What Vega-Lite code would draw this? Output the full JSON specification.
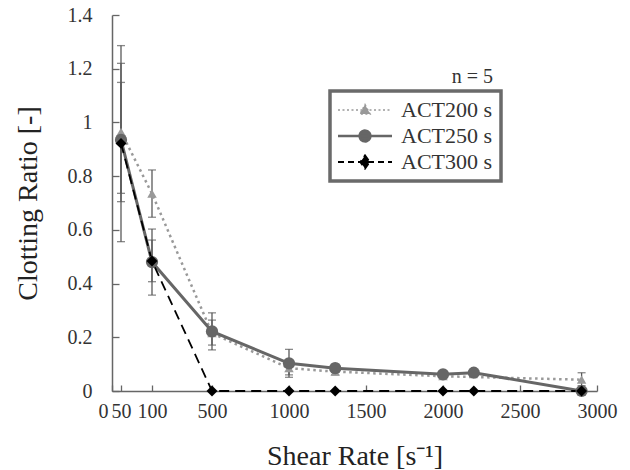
{
  "$schema": "https://vega.github.io/schema/vega-lite/v6.json",
  "autosize": {"type": "none"},
  "padding": {"left": 112, "top": 15, "right": 33, "bottom": 79},
  "width": 485,
  "height": 376,
  "background": "white",
  "config": {
    "view": {"stroke": null},
    "font": "Liberation Serif",
    "axis": {
      "grid": false,
      "domainColor": "#666",
      "domainWidth": 1.5,
      "tickColor": "#666",
      "tickWidth": 1.3,
      "labelFont": "Liberation Serif",
      "labelFontSize": 20,
      "labelColor": "#333",
      "titleFont": "Liberation Serif",
      "titleFontSize": 28,
      "titleFontWeight": "normal",
      "titleColor": "#222"
    }
  },
  "data": {
    "values": [
      {"rate": 50, "ratio": 0.965, "lo": 0.705, "hi": 1.22, "series": "ACT200 s"},
      {"rate": 100, "ratio": 0.735, "lo": 0.647, "hi": 0.823, "series": "ACT200 s"},
      {"rate": 500, "ratio": 0.215, "lo": 0.171, "hi": 0.264, "series": "ACT200 s"},
      {"rate": 1000, "ratio": 0.085, "lo": 0.06, "hi": 0.11, "series": "ACT200 s"},
      {"rate": 1300, "ratio": 0.072, "lo": 0.06, "hi": 0.085, "series": "ACT200 s"},
      {"rate": 2000, "ratio": 0.055, "lo": 0.045, "hi": 0.065, "series": "ACT200 s"},
      {"rate": 2900, "ratio": 0.042, "lo": 0.02, "hi": 0.068, "series": "ACT200 s"},
      {"rate": 50, "ratio": 0.935, "lo": 0.736, "hi": 1.149, "series": "ACT250 s"},
      {"rate": 100, "ratio": 0.48, "lo": 0.357, "hi": 0.603, "series": "ACT250 s"},
      {"rate": 500, "ratio": 0.222, "lo": 0.153, "hi": 0.291, "series": "ACT250 s"},
      {"rate": 1000, "ratio": 0.103, "lo": 0.051, "hi": 0.155, "series": "ACT250 s"},
      {"rate": 1300, "ratio": 0.085, "lo": 0.07, "hi": 0.1, "series": "ACT250 s"},
      {"rate": 2000, "ratio": 0.062, "lo": 0.05, "hi": 0.072, "series": "ACT250 s"},
      {"rate": 2200, "ratio": 0.068, "lo": 0.06, "hi": 0.076, "series": "ACT250 s"},
      {"rate": 2900, "ratio": 0.0, "lo": null, "hi": null, "series": "ACT250 s"},
      {"rate": 50, "ratio": 0.922, "lo": 0.556, "hi": 1.286, "series": "ACT300 s"},
      {"rate": 100, "ratio": 0.484, "lo": 0.407, "hi": 0.562, "series": "ACT300 s"},
      {"rate": 500, "ratio": 0.0, "lo": null, "hi": null, "series": "ACT300 s"},
      {"rate": 1000, "ratio": 0.0, "lo": null, "hi": null, "series": "ACT300 s"},
      {"rate": 1300, "ratio": 0.0, "lo": null, "hi": null, "series": "ACT300 s"},
      {"rate": 2000, "ratio": 0.0, "lo": null, "hi": null, "series": "ACT300 s"},
      {"rate": 2200, "ratio": 0.0, "lo": null, "hi": null, "series": "ACT300 s"},
      {"rate": 2900, "ratio": 0.0, "lo": null, "hi": null, "series": "ACT300 s"}
    ]
  },
  "encoding": {
    "x": {
      "field": "rate",
      "type": "quantitative",
      "scale": {"domain": [0, 50, 100, 500, 3000], "range": [0, 9, 40, 100, 485], "nice": false, "zero": false},
      "axis": {
        "title": "Shear Rate [s⁻¹]",
        "values": [0, 50, 100, 500, 1000, 1500, 2000, 2500, 3000],
        "format": "d",
        "labelOverlap": false,
        "labelAlign": {"condition": {"test": "datum.value === 0", "value": "right"}, "value": "center"},
        "labelOffset": {"condition": {"test": "datum.value === 0", "value": -4}, "value": 0},
        "tickSize": -6,
        "labelPadding": 16,
        "titlePadding": 21
      }
    },
    "y": {
      "field": "ratio",
      "type": "quantitative",
      "scale": {"domain": [0, 1.4], "nice": false},
      "axis": {
        "title": "Clotting Ratio [-]",
        "values": [0, 0.2, 0.4, 0.6, 0.8, 1, 1.2, 1.4],
        "format": "~g",
        "tickSize": -7,
        "labelPadding": 27,
        "titlePadding": 25
      }
    },
    "color": {
      "field": "series",
      "type": "nominal",
      "scale": {"domain": ["ACT200 s", "ACT250 s", "ACT300 s"], "range": ["#999", "#666", "#000"]},
      "legend": {
        "title": null,
        "orient": "none",
        "legendX": 218,
        "legendY": 76,
        "padding": 8,
        "fillColor": "white",
        "strokeColor": "#6a6a6a",
        "labelFont": "Liberation Serif",
        "labelFontSize": 22,
        "labelColor": "#333",
        "labelOffset": 41,
        "rowPadding": 4,
        "symbolSize": 2916,
        "encode": {
          "legend": {"update": {"strokeWidth": {"value": 3.5}}},
          "symbols": {
            "update": {
              "shape": {"signal": "datum.value === 'ACT200 s' ? 'M-1,0H1M0,-0.2L0.19,0.15L-0.19,0.15Z' : datum.value === 'ACT250 s' ? 'M-1,0H1M0.2,0A0.2,0.2 0 1,1 -0.2,0A0.2,0.2 0 1,1 0.2,0Z' : 'M-1,0H1M0,-0.24L0.17,0L0,0.24L-0.17,0Z'"},
              "size": {"value": 2916},
              "x": {"value": 27},
              "strokeDash": {"signal": "datum.value === 'ACT200 s' ? [2, 2.5] : datum.value === 'ACT250 s' ? [1, 0] : [6, 4]"},
              "strokeWidth": {"signal": "datum.value === 'ACT200 s' ? 1.5 : datum.value === 'ACT250 s' ? 2.5 : 2"},
              "opacity": {"value": 1},
              "fillOpacity": {"value": 1}
            }
          }
        }
      }
    }
  },
  "layer": [
    {
      "transform": [{"filter": "datum.lo != null"}],
      "mark": {"type": "rule", "strokeWidth": 1.3},
      "encoding": {"y": {"field": "lo", "type": "quantitative"}, "y2": {"field": "hi"}, "color": {"value": "#5a5a5a"}}
    },
    {
      "transform": [{"filter": "datum.lo != null"}],
      "mark": {"type": "point", "shape": "stroke", "size": 64, "strokeWidth": 1.3},
      "encoding": {"y": {"field": "lo", "type": "quantitative"}, "color": {"value": "#5a5a5a"}}
    },
    {
      "transform": [{"filter": "datum.lo != null"}],
      "mark": {"type": "point", "shape": "stroke", "size": 64, "strokeWidth": 1.3},
      "encoding": {"y": {"field": "hi", "type": "quantitative"}, "color": {"value": "#5a5a5a"}}
    },
    {
      "transform": [{"filter": "datum.series === 'ACT200 s'"}],
      "mark": {"type": "line", "strokeDash": [2.5, 3.5], "strokeWidth": 2.5}
    },
    {
      "transform": [{"filter": "datum.series === 'ACT250 s'"}],
      "mark": {"type": "line", "strokeWidth": 3}
    },
    {
      "transform": [{"filter": "datum.series === 'ACT300 s'"}],
      "mark": {"type": "line", "strokeDash": [10, 6], "strokeWidth": 1.8}
    },
    {
      "transform": [{"filter": "datum.series === 'ACT200 s'"}],
      "mark": {"type": "point", "filled": true, "opacity": 1, "shape": "triangle-up", "size": 90}
    },
    {
      "transform": [{"filter": "datum.series === 'ACT250 s'"}],
      "mark": {"type": "point", "filled": true, "opacity": 1, "shape": "circle", "size": 150}
    },
    {
      "transform": [{"filter": "datum.series === 'ACT300 s'"}],
      "mark": {"type": "point", "filled": true, "opacity": 1, "shape": "diamond", "size": 120}
    },
    {
      "data": {"values": [{"rate": 2325, "ratio": 1.147, "note": "n = 5"}]},
      "mark": {"type": "text", "align": "right", "baseline": "alphabetic", "font": "Liberation Serif", "fontSize": 20},
      "encoding": {"text": {"field": "note"}, "color": {"value": "#333"}}
    }
  ]
}
